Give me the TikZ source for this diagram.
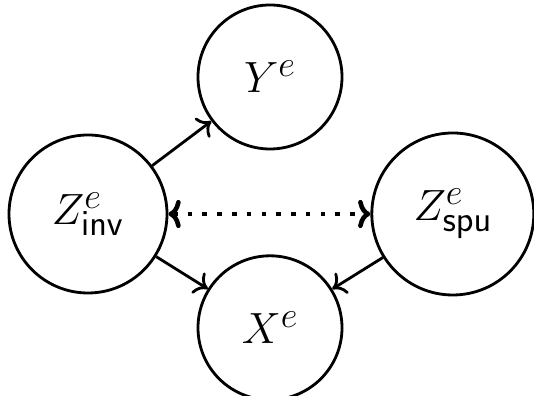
\documentclass[tikz,border=0pt]{standalone}
\usepackage{tikz}
\usetikzlibrary{positioning, arrows.meta}

\begin{document}
\begin{tikzpicture}[
  var/.style={draw, circle, line width=1.6pt, inner sep=0pt, minimum size=2.88cm, font=\fontsize{30}{36}\selectfont},
  edge/.style={line width=1.6pt, -{To[length=7pt, width=14pt]}}
]
  \useasboundingbox (0,0) rectangle (10.68,7.92);
  \node[var, minimum size=3.16cm] (zinv) at (1.76,3.64) {$Z^e_{\mathsf{inv}}$};
  \node[var, minimum size=3.24cm, right=4.04cm of zinv] (zspu) {$Z^e_{\mathsf{spu}}$};
  \node[var] (y) at (5.40,6.38) {$Y^e$};
  \node[var, below=2.08cm of y] (x) {$X^e$};

  \draw[edge] (zinv) -- (y);
  \draw[edge] (zinv) -- (x);
  \draw[edge] (zspu) -- (x);
  \draw[line width=2.6pt, dash pattern=on 2.6pt off 5.8pt, {To[length=7pt, width=16pt]}-{To[length=7pt, width=16pt]}] (zinv) -- (zspu);
\end{tikzpicture}
\end{document}
